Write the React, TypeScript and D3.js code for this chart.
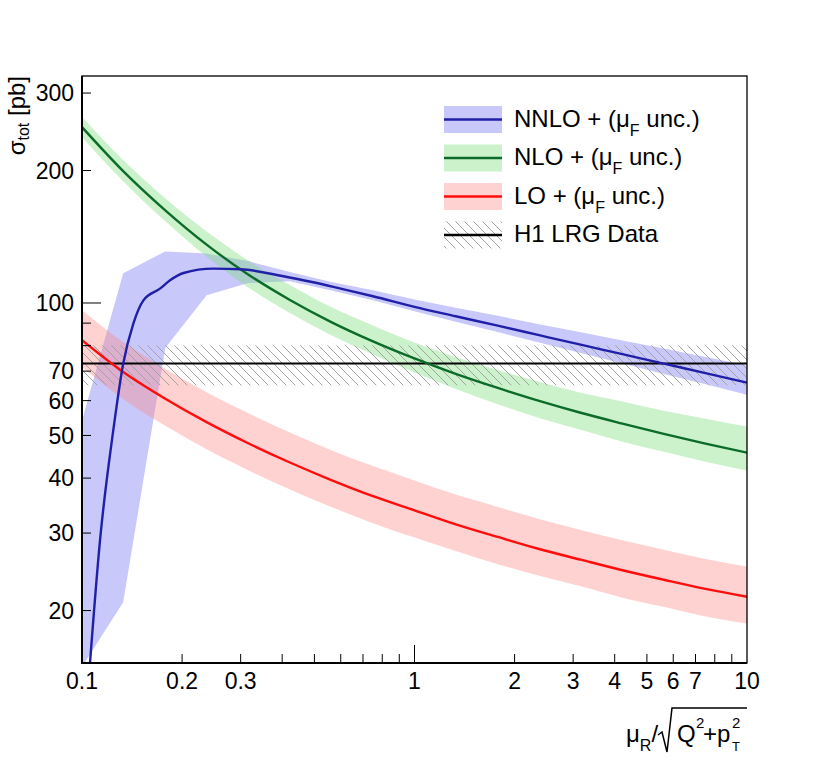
import * as d3 from 'd3';

// renormalisation scale grid used for the bands (mu_R / sqrt(Q^2+pT^2))
const muGrid = [0.1, 0.133, 0.178, 0.237, 0.316, 0.422, 0.562, 0.75, 1, 1.33, 1.78, 2.37, 3.16, 4.22, 5.62, 7.5, 10];

// NNLO central line (own grid, steep at low mu)
const nnloMu = [0.1, 0.1057, 0.1133, 0.1242, 0.133, 0.1427, 0.153, 0.1716, 0.184, 0.202, 0.248, 0.3, 0.4, 0.5, 0.6, 0.75, 1, 1.33, 1.78, 2.37, 3.16, 4.22, 5.62, 7.5, 10];
const nnloXsec = [8.5, 15.2, 28.9, 51.4, 72.8, 89.8, 101.4, 107.8, 112.6, 117, 119.7, 119.3, 115.2, 111.3, 107.8, 103.6, 98.0, 93.3, 88.8, 84.5, 80.4, 76.5, 72.8, 69.3, 65.9];
const nnloUp = [54.1, 116.8, 131, 129.5, 124.5, 117.6, 111.6, 106.9, 101.8, 97.5, 93.5, 89.5, 85.8, 82.2, 78.8, 75.4, 72.2];
const nnloDown = [14.9, 20.9, 79, 104.1, 111.0, 112.0, 106.7, 101.4, 95.8, 90.7, 85.9, 81.3, 77.0, 72.9, 69.0, 65.4, 61.9];

const nloXsec = [251, 199.4, 162.4, 135.7, 116.1, 101.6, 90.5, 81.8, 74.8, 69.0, 64.1, 59.9, 56.3, 53.2, 50.4, 47.9, 45.7];
const nloUp = [264.5, 211.2, 172.9, 145.3, 124.9, 109.9, 97.9, 88.9, 81.3, 75.4, 70.4, 66.2, 62.5, 59.7, 56.9, 54.6, 52.4];
const nloDown = [238.2, 189.2, 153.3, 127.4, 108.5, 94.9, 84.5, 76.4, 69.5, 63.8, 58.9, 54.8, 51.5, 48.4, 45.9, 43.6, 41.6];

const loXsec = [82.3, 69.7, 60.6, 53.6, 48.0, 43.4, 39.6, 36.4, 33.8, 31.4, 29.4, 27.6, 26.1, 24.7, 23.5, 22.4, 21.5];
const loUp = [96.3, 81.5, 70.9, 62.7, 56.2, 50.8, 46.3, 42.6, 39.5, 36.7, 34.4, 32.3, 30.5, 28.9, 27.5, 26.2, 25.2];
const loDown = [71.4, 60.5, 52.6, 46.5, 41.7, 37.7, 34.4, 31.6, 29.3, 27.3, 25.5, 24.0, 22.7, 21.4, 20.4, 19.4, 18.7];

// H1 LRG measurement: central value and error band
const h1Data = [72.9];
const h1Band = [65.0, 80.1];

const xMinor = [0.2, 0.3, 0.4, 0.5, 0.6, 0.7, 0.8, 0.9, 2, 3, 4, 5, 6, 7, 8, 9];
const xMajor = [1];
const xLabels = ['0.1', '0.2', '0.3', '1', '2', '3', '4', '5', '6', '7', '10'];
const yMinor = [20, 30, 40, 50, 60, 70, 80, 90, 200, 300];
const yMajor = [100];
const yLabels = ['20', '30', '40', '50', '60', '70', '100', '200', '300'];

const W = 830;
const H = 773;
const left = 82;
const right = 747;
const top = 76;
const bottom = 663;

const FONT = '"Liberation Sans", Arial, Helvetica, sans-serif';
const BLUE = '#1f1fa8';
const BLUE_BAND = '#c8c8fa';
const GREEN = '#0b6b28';
const GREEN_BAND = 'rgba(120, 220, 120, 0.38)';
const RED = '#ff0d0d';
const RED_BAND = 'rgba(255, 130, 130, 0.36)';

const x = d3.scaleLog().domain([0.1, 10]).range([left, right]);
const y = d3.scaleLog().domain([15.2, 328]).range([bottom, top]);

const App = () => {
  const bandLinear = (up: number[], down: number[]) =>
    d3
      .area<number>()
      .x((_, i) => x(muGrid[i]))
      .y0((_, i) => y(down[i]))
      .y1((_, i) => y(up[i]))(muGrid) || '';

  const bandSmooth = (up: number[], down: number[]) =>
    d3
      .area<number>()
      .curve(d3.curveMonotoneX)
      .x((_, i) => x(muGrid[i]))
      .y0((_, i) => y(down[i]))
      .y1((_, i) => y(up[i]))(muGrid) || '';

  const curve = (xs: number[], ys: number[]) =>
    d3
      .line<number>()
      .curve(d3.curveMonotoneX)
      .x((d) => x(d))
      .y((_, i) => y(ys[i]))(xs) || '';

  const legendRows = [
    { key: 'nnlo', label: 'NNLO', fill: BLUE_BAND, line: BLUE },
    { key: 'nlo', label: 'NLO', fill: GREEN_BAND, line: GREEN },
    { key: 'lo', label: 'LO', fill: RED_BAND, line: RED },
    { key: 'h1', label: 'H1 LRG Data', fill: 'url(#hatch)', line: '#000' },
  ];

  return (
    <div style={{ position: 'absolute', left: 0, top: 0 }}>
      <svg width={W} height={H} style={{ display: 'block', background: '#fff' }} fontFamily={FONT}>
        <defs>
          <clipPath id="plotClip">
            <rect x={left} y={top} width={right - left} height={bottom - top} />
          </clipPath>
          <pattern id="hatch" width={9} height={9} patternUnits="userSpaceOnUse">
            <path d="M0,0 L9,9 M-2,7 L2,11 M7,-2 L11,2" stroke="#a3a3a3" strokeWidth={1} />
          </pattern>
        </defs>

        <g clipPath="url(#plotClip)">
          <path d={bandLinear(nnloUp, nnloDown)} fill={BLUE_BAND} />
          <path d={bandSmooth(nloUp, nloDown)} fill={GREEN_BAND} />
          <path d={bandSmooth(loUp, loDown)} fill={RED_BAND} />
          <rect
            x={left}
            y={y(h1Band[1])}
            width={right - left}
            height={y(h1Band[0]) - y(h1Band[1])}
            fill="url(#hatch)"
          />
          <line x1={left} x2={right} y1={y(h1Data[0])} y2={y(h1Data[0])} stroke="#000" strokeWidth={2} />
          <path d={curve(muGrid, loXsec)} fill="none" stroke={RED} strokeWidth={2.4} />
          <path d={curve(muGrid, nloXsec)} fill="none" stroke={GREEN} strokeWidth={2.4} />
          <path d={curve(nnloMu, nnloXsec)} fill="none" stroke={BLUE} strokeWidth={2.4} />
        </g>

        {/* frame */}
        <rect x={left} y={top} width={right - left} height={bottom - top} fill="none" stroke="#000" strokeWidth={1.3} />
        <line x1={left} x2={left} y1={top} y2={bottom + 1} stroke="#000" strokeWidth={2} />
        <line x1={left} x2={right} y1={bottom} y2={bottom} stroke="#000" strokeWidth={2} />

        {/* x ticks */}
        {xMinor.map((v) => (
          <line key={`xm${v}`} x1={x(v)} x2={x(v)} y1={bottom} y2={bottom - 9} stroke="#000" strokeWidth={1} />
        ))}
        {xMajor.map((v) => (
          <line key={`xM${v}`} x1={x(v)} x2={x(v)} y1={bottom} y2={bottom - 18} stroke="#000" strokeWidth={1} />
        ))}
        {xLabels.map((t) => (
          <text key={`xl${t}`} x={x(+t)} y={689} fontSize={23} textAnchor="middle">
            {t}
          </text>
        ))}

        {/* y ticks */}
        {yMinor.map((v) => (
          <line key={`ym${v}`} x1={left} x2={left + 9} y1={y(v)} y2={y(v)} stroke="#000" strokeWidth={1} />
        ))}
        {yMajor.map((v) => (
          <line key={`yM${v}`} x1={left} x2={left + 19} y1={y(v)} y2={y(v)} stroke="#000" strokeWidth={1} />
        ))}
        {yLabels.map((t) => (
          <text key={`yl${t}`} x={74} y={y(+t)} dy="0.36em" fontSize={23} textAnchor="end">
            {t}
          </text>
        ))}

        {/* y title */}
        <text transform={`translate(25,${top}) rotate(-90)`} fontSize={24} textAnchor="end">
          σ<tspan fontSize={16} dy={4}>tot</tspan>
          <tspan dy={-4}> [pb]</tspan>
        </text>

        {/* x title */}
        <text x={626} y={742} fontSize={24}>
          μ<tspan fontSize={16} dy={9}>R</tspan>
          <tspan dy={-9}>/</tspan>
        </text>
        <path d="M658,735 L662,732 L667,752 L672,708 L747,708" fill="none" stroke="#000" strokeWidth={1.5} />
        <text x={677} y={742} fontSize={24}>Q</text>
        <text x={696} y={728} fontSize={15}>2</text>
        <text x={703} y={742} fontSize={24}>+p</text>
        <text x={732} y={728} fontSize={15}>2</text>
        <text x={732} y={751} fontSize={13}>T</text>

        {/* legend */}
        {legendRows.map((r, i) => {
          const cy = 119.5 + i * 38.5;
          return (
            <g key={r.key}>
              <rect x={444} y={cy - 13.5} width={58} height={27} fill={r.fill} />
              <line x1={444} x2={502} y1={cy} y2={cy} stroke={r.line} strokeWidth={2.4} />
              <text x={514} y={cy + 7} fontSize={24}>
                {r.key === 'h1' ? (
                  r.label
                ) : (
                  <>
                    {r.label} + (μ<tspan fontSize={16} dy={9}>F</tspan>
                    <tspan dy={-9}> unc.)</tspan>
                  </>
                )}
              </text>
            </g>
          );
        })}
      </svg>
    </div>
  );
};

export default App;
